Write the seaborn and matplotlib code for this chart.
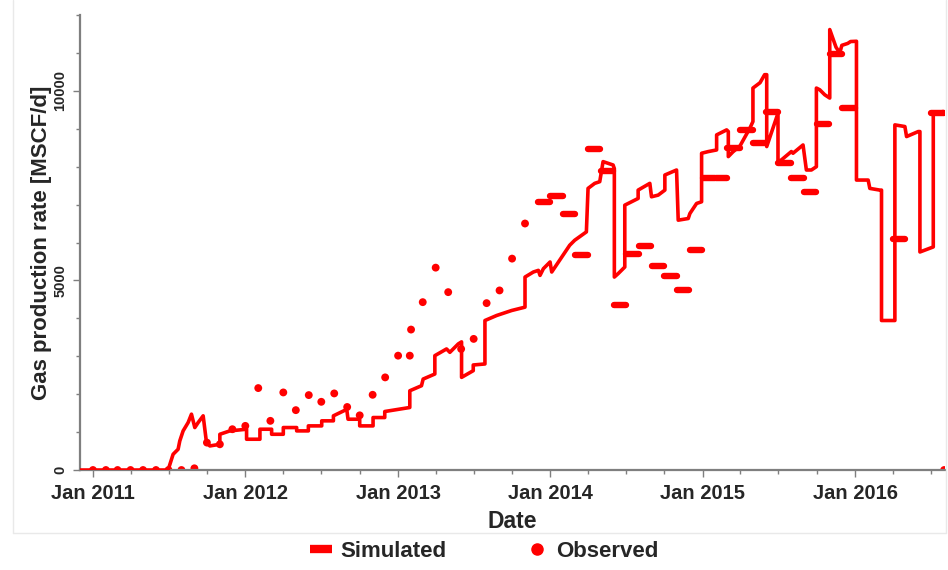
import matplotlib
matplotlib.use("Agg")
import matplotlib.pyplot as plt
import matplotlib.dates as mdates
from matplotlib.lines import Line2D
from matplotlib.ticker import MultipleLocator, FixedLocator
import pandas as pd
import seaborn as sns

# ---- simulated gas rate (polyline vertices: date, MSCF/d) ----
sim_dates = [
    "2010-12-01", "2011-06-30", "2011-07-12", "2011-07-24", "2011-07-28", "2011-08-05",
    "2011-08-17", "2011-08-25", "2011-09-02", "2011-09-10", "2011-09-22", "2011-09-30",
    "2011-10-08", "2011-11-01", "2011-11-01", "2011-11-25", "2012-01-04", "2012-01-04",
    "2012-02-05", "2012-02-05", "2012-03-04", "2012-03-04", "2012-04-01", "2012-04-01",
    "2012-05-03", "2012-05-03", "2012-05-31", "2012-05-31", "2012-07-02", "2012-07-02",
    "2012-07-30", "2012-07-30", "2012-08-31", "2012-09-03", "2012-10-01", "2012-10-01",
    "2012-11-02", "2012-11-02", "2012-11-30", "2012-11-30", "2013-01-29", "2013-01-29",
    "2013-02-26", "2013-03-02", "2013-03-30", "2013-03-30", "2013-04-27", "2013-05-05",
    "2013-05-25", "2013-06-02", "2013-06-02", "2013-06-30", "2013-06-30", "2013-07-28",
    "2013-07-28", "2013-08-25", "2013-09-30", "2013-11-01", "2013-11-01", "2013-11-21",
    "2013-12-03", "2013-12-07", "2013-12-15", "2013-12-31", "2014-01-04", "2014-01-31",
    "2014-02-16", "2014-02-28", "2014-03-28", "2014-04-01", "2014-04-17", "2014-04-29",
    "2014-05-03", "2014-05-07", "2014-05-31", "2014-06-03", "2014-06-03", "2014-06-12",
    "2014-06-28", "2014-06-28", "2014-07-14", "2014-07-30", "2014-07-30", "2014-08-27",
    "2014-08-31", "2014-09-16", "2014-10-02", "2014-10-02", "2014-10-30", "2014-11-03",
    "2014-11-27", "2014-12-01", "2014-12-17", "2014-12-29", "2014-12-29", "2015-01-14",
    "2015-02-03", "2015-02-03", "2015-02-27", "2015-03-03", "2015-03-03", "2015-03-14",
    "2015-03-31", "2015-04-12", "2015-04-24", "2015-05-01", "2015-05-01", "2015-05-18",
    "2015-05-29", "2015-06-03", "2015-06-03", "2015-06-30", "2015-06-30", "2015-07-08",
    "2015-08-01", "2015-08-05", "2015-08-29", "2015-09-06", "2015-09-18", "2015-09-30",
    "2015-09-30", "2015-10-08", "2015-10-20", "2015-11-01", "2015-11-01", "2015-11-16",
    "2015-11-25", "2015-11-30", "2015-12-14", "2015-12-21", "2016-01-04", "2016-01-04",
    "2016-02-01", "2016-02-05", "2016-02-29", "2016-03-04", "2016-03-04", "2016-04-05",
    "2016-04-05", "2016-04-29", "2016-05-03", "2016-05-31", "2016-06-04", "2016-06-04",
    "2016-07-06", "2016-07-06", "2016-07-30",
]
sim_rates = [
    0, 0, 415, 548, 767, 1032,
    1252, 1473, 1120, 1252, 1429, 723,
    635, 679, 943, 1032, 1076, 812,
    812, 1076, 1076, 943, 943, 1120,
    1120, 1032, 1032, 1164, 1164, 1297,
    1297, 1429, 1600, 1340, 1340, 1164,
    1164, 1384, 1384, 1543, 1649, 2090,
    2223, 2399, 2532, 3016, 3193, 3104,
    3325, 3380, 2443, 2620, 2770, 2797,
    3943, 4075, 4207, 4295, 5089, 5222,
    5265, 5133, 5310, 5486, 5222, 5663,
    5927, 6059, 6280, 7427, 7560, 7604,
    7868, 8133, 8044, 7950, 5089, 5178,
    5353, 6985, 7074, 7162, 7382, 7560,
    7206, 7250, 7382, 7780, 7912, 6589,
    6633, 6765, 7030, 7074, 8354, 8398,
    8441, 8838, 8970, 8926, 8266, 8390,
    8547, 8785, 9023, 9190, 10073, 10214,
    10426, 10426, 8530, 9410, 8133, 8176,
    8398, 8354, 8573, 7912, 7912, 8000,
    10073, 10028, 9896, 9809, 11616, 11150,
    11000, 11200, 11250, 11300, 11307, 7647,
    7647, 7427, 7382, 7382, 3943, 3943,
    9102, 9058, 8794, 8926, 8926, 5750,
    5883, 9410, 9454,
]

# ---- observed monthly rates shown as points ----
obs_point_dates = [
    "2011-01-01", "2011-02-01", "2011-03-01", "2011-04-01", "2011-05-01", "2011-06-01",
    "2011-07-01", "2011-08-01", "2011-09-01", "2011-10-01", "2011-11-01", "2011-12-01",
    "2012-01-01", "2012-02-01", "2012-03-01", "2012-04-01", "2012-05-01", "2012-06-01",
    "2012-07-01", "2012-08-01", "2012-09-01", "2012-10-01", "2012-11-01", "2012-12-01",
    "2013-01-01", "2013-01-29", "2013-02-01", "2013-03-01", "2013-04-01", "2013-05-01",
    "2013-06-01", "2013-07-01", "2013-08-01", "2013-09-01", "2013-10-01", "2013-11-01",
    "2016-08-01",
]
obs_point_rates = [
    0, 0, 0, 0, 0, 0,
    0, 0, 45, 723, 679, 1076,
    1164, 2161, 1297, 2046, 1579, 1976,
    1799, 2020, 1662, 1442, 1984, 2443,
    3016, 3016, 3704, 4427, 5337, 4691,
    3193, 3458, 4401, 4736, 5575, 6501,
    0,
]

# ---- observed monthly rates shown as month-long bars ----
obs_bar_months = [
    "2013-12", "2014-01", "2014-02", "2014-03", "2014-04", "2014-05", "2014-06",
    "2014-07", "2014-08", "2014-09", "2014-10", "2014-11", "2014-12", "2015-01",
    "2015-02", "2015-03", "2015-04", "2015-05", "2015-06", "2015-07", "2015-08",
    "2015-09", "2015-10", "2015-11", "2015-12", "2016-04", "2016-07",
]
obs_bar_rates = [
    7074, 7234, 6739, 5663, 8459, 7893, 4357,
    5707, 5901, 5380, 5107, 4755, 5813, 7692,
    7692, 8486, 8970, 8618, 9454, 8106, 7692,
    7338, 9128, 10973, 9560, 6104, 9410,
]

x_limits = ["2010-12-01", "2016-08-03"]
y_major_ticks = [0, 5000, 10000]

RED = "#ff0000"
AXIS_GREY = "#7f7f7f"

sns.set_theme(style="white")
plt.rcParams["font.family"] = ["Liberation Sans", "DejaVu Sans"]
plt.rcParams["font.weight"] = "bold"

sim_df = pd.DataFrame({"Date": pd.to_datetime(sim_dates), "Rate": sim_rates})
obs_df = pd.DataFrame({"Date": pd.to_datetime(obs_point_dates), "Rate": obs_point_rates})
bar_start = pd.to_datetime([m + "-01" for m in obs_bar_months])
bar_end = bar_start + pd.offsets.MonthEnd(0)

fig = plt.figure(figsize=(9.48, 5.70), dpi=100)
ax = fig.add_axes([0.0844, 0.1754, 0.9124, 0.7983])

sns.scatterplot(data=obs_df, x="Date", y="Rate", color=RED, s=32,
                edgecolor="none", ax=ax, zorder=2)
sns.lineplot(data=sim_df, x="Date", y="Rate", sort=False, estimator=None,
             color=RED, lw=2.6, ax=ax, zorder=3)
bars = ax.hlines(obs_bar_rates, bar_start, bar_end, colors=RED, lw=4.6, zorder=4)
bars.set_capstyle("round")

ax.set_xlim(pd.to_datetime(x_limits[0]), pd.to_datetime(x_limits[1]))
ax.set_ylim(0, 12000)

ax.xaxis.set_major_locator(mdates.YearLocator())
ax.xaxis.set_minor_locator(mdates.MonthLocator(bymonth=[4, 7, 10]))
ax.xaxis.set_major_formatter(mdates.DateFormatter("%b %Y"))
ax.yaxis.set_major_locator(FixedLocator(y_major_ticks))
ax.yaxis.set_minor_locator(MultipleLocator(1000))

ax.tick_params(axis="both", which="both", direction="out", color=AXIS_GREY,
               bottom=True, left=True, width=1.0)
ax.tick_params(axis="both", which="major", length=5)
ax.tick_params(axis="both", which="minor", length=3)
ax.tick_params(axis="x", which="major", labelsize=14.5, pad=5)
ax.tick_params(axis="y", which="major", labelsize=10.5, pad=4)
for lab in ax.get_yticklabels():
    lab.set_rotation(90)
    lab.set_verticalalignment("center")
    lab.set_fontweight("bold")
for lab in ax.get_xticklabels():
    lab.set_fontweight("bold")

for side in ("top", "right"):
    ax.spines[side].set_visible(False)
for side in ("left", "bottom"):
    ax.spines[side].set_color(AXIS_GREY)
    ax.spines[side].set_linewidth(1.6)

ax.set_xlabel("Date", fontsize=16.5, fontweight="bold", labelpad=5)
ax.set_ylabel("Gas production rate [MSCF/d]", fontsize=16, fontweight="bold", labelpad=1)
ax.grid(False)

handles = [
    Line2D([0], [0], color=RED, lw=6, solid_capstyle="butt"),
    Line2D([0], [0], color=RED, marker="o", ls="none", markersize=8),
]
fig.legend(handles, ["Simulated", "Observed"], loc="center",
           bbox_to_anchor=(0.511, 0.033), ncol=2, frameon=False,
           prop={"size": 16, "weight": "bold"}, columnspacing=3.6,
           handlelength=1.0, handletextpad=0.35)

# faint panel frame around the plot area
frame_c = "#e9e9e9"
fig.add_artist(Line2D([13 / 948, 13 / 948], [1 - 533 / 570, 1], color=frame_c, lw=1))
fig.add_artist(Line2D([946 / 948, 946 / 948], [1 - 533 / 570, 1], color=frame_c, lw=1))
fig.add_artist(Line2D([13 / 948, 946 / 948], [1 - 533 / 570, 1 - 533 / 570], color=frame_c, lw=1))

fig.savefig("out.png", dpi=100, facecolor="white")
